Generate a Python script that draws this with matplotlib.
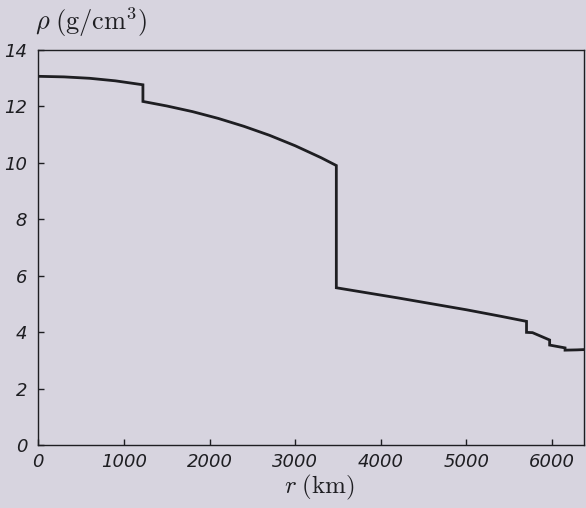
import matplotlib
matplotlib.use("Agg")
import matplotlib.pyplot as plt

# Density profile (r in km, rho in g/cm^3)
r_inner = [0, 300, 600, 900, 1221.5]
rho_inner = [13.06, 13.04, 12.99, 12.90, 12.76]

r_outer = [1221.5, 1500, 1800, 2100, 2400, 2700, 3000, 3300, 3480]
rho_outer = [12.17, 12.01, 11.81, 11.57, 11.29, 10.97, 10.60, 10.18, 9.90]

r_lower = [3480, 3800, 4200, 4600, 5000, 5400, 5600, 5701]
rho_lower = [5.57, 5.41, 5.21, 5.00, 4.79, 4.56, 4.44, 4.38]

r_upper = [5701, 5771, 5971, 5971, 6151, 6151, 6291, 6371]
rho_upper = [3.99, 3.98, 3.72, 3.54, 3.44, 3.36, 3.37, 3.38]

bg = "#d7d4df"
ink = "#1e1e22"

plt.rcParams["mathtext.fontset"] = "cm"

fig = plt.figure(figsize=(5.86, 5.08), dpi=100, facecolor=bg)
ax = fig.add_axes([0.0654, 0.124, 0.931, 0.778])
ax.set_facecolor(bg)

r = r_inner + r_outer + r_lower + r_upper
rho = rho_inner + rho_outer + rho_lower + rho_upper
ax.plot(r, rho, color=ink, linewidth=2.0, solid_joinstyle="miter")

ax.set_xlim(0, 6371)
ax.set_ylim(0, 14)
ax.set_xticks(range(0, 7000, 1000))
ax.set_yticks(range(0, 16, 2))

for s in ax.spines.values():
    s.set_color(ink)
    s.set_linewidth(1.0)

ax.tick_params(direction="in", length=4, width=1.0, color=ink,
               top=False, right=False, labelsize=13, labelcolor=ink)
ax.tick_params(axis="x", pad=6)
ax.tick_params(axis="y", pad=8)
for lab in ax.get_xticklabels() + ax.get_yticklabels():
    lab.set_fontstyle("italic")
    lab.set_family("DejaVu Sans")

fig.text(0.06, 0.957, r"$\rho\;(\mathrm{g/cm^3})$", fontsize=19,
         color=ink, ha="left", va="center")
fig.text(0.545, 0.04, r"$r\;(\mathrm{km})$", fontsize=18,
         color=ink, ha="center", va="center")

fig.savefig("out.png", dpi=100, facecolor=bg)
